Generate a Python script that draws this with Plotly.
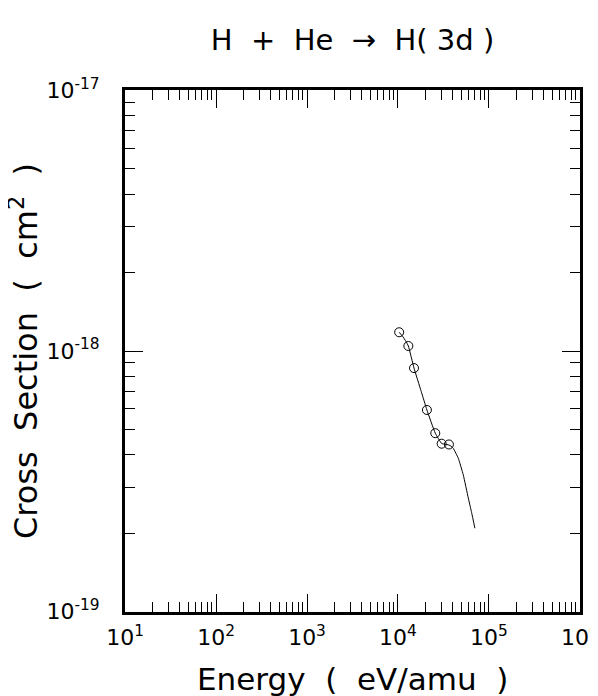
import plotly.graph_objects as go

# measured points (open circles)
energy = [1.03e4, 1.30e4, 1.50e4, 2.08e4, 2.57e4, 3.02e4, 3.63e4]
cross_section = [1.18e-18, 1.045e-18, 8.6e-19, 5.94e-19, 4.84e-19, 4.41e-19, 4.38e-19]

# fitted curve
fit_energy = [1.03e4, 1.12e4, 1.22e4, 1.30e4, 1.50e4, 1.8e4, 2.08e4, 2.57e4, 3.02e4, 3.3e4, 3.63e4,
              3.85e4, 4.06e4, 4.6e4, 5.22e4, 5.93e4, 6.45e4, 7.01e4]
fit_cross = [1.18e-18, 1.14e-18, 1.09e-18, 1.045e-18, 8.6e-19, 7.0e-19, 5.94e-19, 4.84e-19, 4.42e-19, 4.39e-19, 4.36e-19,
             4.31e-19, 4.23e-19, 3.88e-19, 3.35e-19, 2.73e-19, 2.4e-19, 2.09e-19]

x_tickvals = [1e1, 1e2, 1e3, 1e4, 1e5, 1e6]
x_ticktext = ["10<sup>1</sup>", "10<sup>2</sup>", "10<sup>3</sup>", "10<sup>4</sup>", "10<sup>5</sup>", "10<sup>6</sup>"]
y_tickvals = [1e-19, 1e-18, 1e-17]
y_ticktext = ["10<sup>-19</sup>", "10<sup>-18</sup>", "10<sup>-17</sup>"]

FONT = "DejaVu Sans"

fig = go.Figure()
fig.add_trace(go.Scatter(x=fit_energy, y=fit_cross, mode="lines",
                         line=dict(color="black", width=1, shape="spline", smoothing=0.4),
                         showlegend=False, hoverinfo="skip"))
fig.add_trace(go.Scatter(x=energy, y=cross_section, mode="markers",
                         marker=dict(symbol="circle-open", size=9, color="black",
                                     line=dict(width=1, color="black")),
                         showlegend=False))

axis_common = dict(
    type="log", showgrid=False, zeroline=False, automargin=False,
    showline=True, linecolor="black", linewidth=3, mirror="allticks",
    ticks="inside", ticklen=18, tickwidth=1, tickcolor="black",
    minor=dict(ticks="inside", ticklen=10, tickwidth=1, tickcolor="black",
               dtick="D1", showgrid=False),
    tickfont=dict(family=FONT, size=22, color="black"),
    ticklabeloverflow="allow",
)

fig.update_xaxes(range=[0.999, 6.001], tickvals=x_tickvals, ticktext=x_ticktext,
                 ticklabelstandoff=4, **axis_common)
fig.update_yaxes(range=[-19.001, -16.999], tickvals=y_tickvals, ticktext=y_ticktext,
                 ticklabelstandoff=18, **axis_common)

fig.update_layout(
    width=590, height=688,
    margin=dict(l=117, r=18, t=82, b=84),
    paper_bgcolor="white", plot_bgcolor="white",
    title=dict(text="H  +  He  \u2192  H( 3d )", x=0.5, xanchor="center", y=0.9535, yanchor="middle",
               xref="paper", yref="container",
               font=dict(family=FONT, size=29, color="black")),
    annotations=[
        dict(text="Energy  (  eV/amu  )", xref="paper", yref="paper", x=0.5, y=-0.128,
             xanchor="center", yanchor="middle", showarrow=False,
             font=dict(family=FONT, size=31, color="black")),
        dict(text="Cross  Section  (  cm<sup>2</sup>  )", xref="paper", yref="paper", x=-0.222, y=0.5,
             xanchor="center", yanchor="middle", showarrow=False, textangle=-90,
             font=dict(family=FONT, size=32, color="black")),
    ],
)

fig.write_html("out.html")
